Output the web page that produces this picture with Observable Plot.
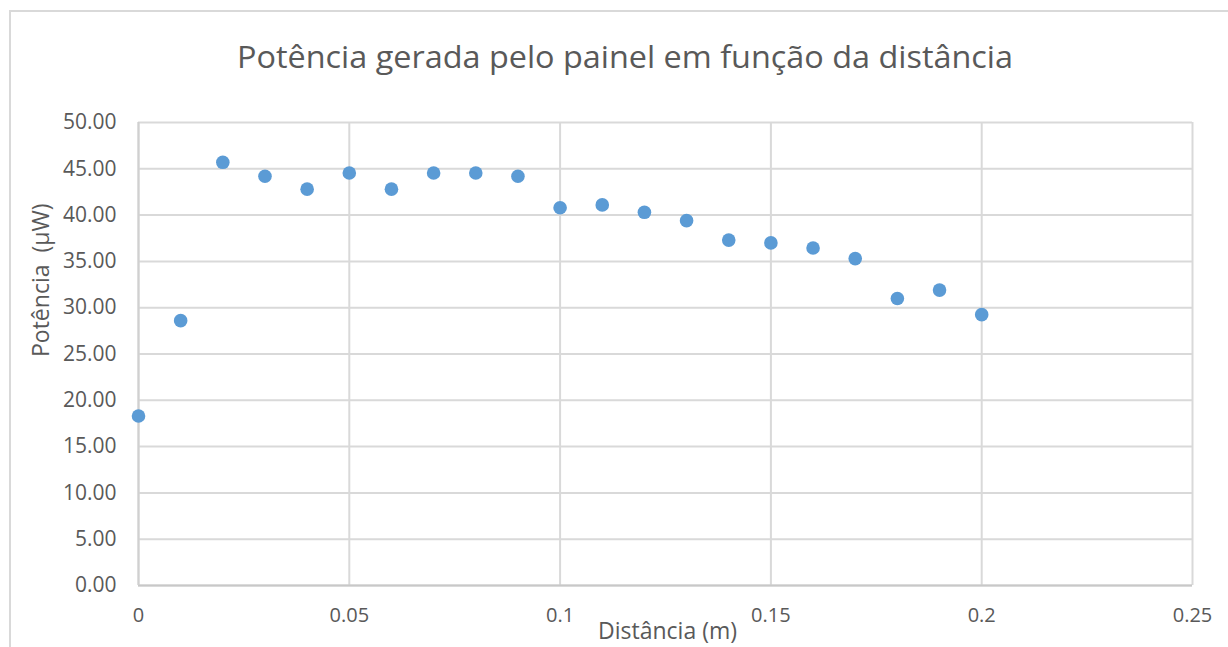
<!DOCTYPE html>
<html><head><meta charset="utf-8">
<script src="https://cdn.jsdelivr.net/npm/d3@7"></script>
<script src="https://cdn.jsdelivr.net/npm/@observablehq/plot@0.6"></script>
<style>
html,body{margin:0;padding:0;background:#fff;}
#wrap{position:relative;width:1228px;height:647px;overflow:hidden;font-family:"Open Sans",sans-serif;}
#frame{position:absolute;left:9px;top:10px;width:1260px;height:700px;border-top:2px solid #d9d9d9;border-left:2px solid #d9d9d9;box-sizing:border-box;}
#chart{position:absolute;left:0;top:0;}
#titlesvg{position:absolute;left:0;top:0;}
</style></head>
<body>
<div id="wrap">
  <div id="frame"></div>
  <div id="chart"></div>
  <svg id="titlesvg" width="1228" height="100"><text id="title" x="625" y="68" text-anchor="middle" fill="#595959" font-family="Open Sans" font-size="31" textLength="776" lengthAdjust="spacingAndGlyphs">Potência gerada pelo painel em função da distância</text></svg>
</div>
<script>
const titleText = "Potência gerada pelo painel em função da distância";
const xLabel = "Distância (m)";
const yLabel = "Potência  (µW)";
const distancia = [0, 0.01, 0.02, 0.03, 0.04, 0.05, 0.06, 0.07, 0.08, 0.09, 0.10, 0.11, 0.12, 0.13, 0.14, 0.15, 0.16, 0.17, 0.18, 0.19, 0.20];
const potencia = [18.3, 28.6, 45.7, 44.2, 42.8, 44.55, 42.8, 44.55, 44.55, 44.2, 40.8, 41.1, 40.3, 39.4, 37.3, 37.0, 36.45, 35.3, 31.0, 31.9, 29.25];
const xTicks = [0, 0.05, 0.1, 0.15, 0.2, 0.25];
const xTickLabels = ["0", "0.05", "0.1", "0.15", "0.2", "0.25"];
const yTicks = [0, 5, 10, 15, 20, 25, 30, 35, 40, 45, 50];

document.getElementById("title").textContent = titleText;
const data = distancia.map((d, i) => ({d, p: potencia[i]}));

const chart = Plot.plot({
  width: 1228,
  height: 647,
  marginTop: 122,
  marginRight: 36,
  marginBottom: 62,
  marginLeft: 138,
  style: {fontFamily: "Open Sans", fontSize: "20px", color: "#595959", background: "transparent"},
  x: {domain: [0, 0.25]},
  y: {domain: [0, 50]},
  marks: [
    Plot.gridX(xTicks, {stroke: "#d9d9d9", strokeOpacity: 1, strokeWidth: 2}),
    Plot.gridY(yTicks, {stroke: "#d9d9d9", strokeOpacity: 1, strokeWidth: 2}),
    Plot.ruleY([0], {stroke: "#c8c8c8", strokeWidth: 2}),
    Plot.ruleX([0], {stroke: "#d0d0d0", strokeWidth: 2}),
    Plot.axisX(xTicks, {tickFormat: (d) => xTickLabels[xTicks.indexOf(d)], tickSize: 0, tickPadding: 22, fontSize: 20, label: null}),
    Plot.axisY(yTicks, {tickFormat: (d) => d.toFixed(2), tickSize: 0, tickPadding: 22, fontSize: 21, label: null}),
    Plot.text([xLabel], {text: (d) => d, frameAnchor: "bottom", dx: 2, dy: 46, lineAnchor: "middle", fontSize: 23, fill: "#595959"}),
    Plot.text([yLabel], {text: (d) => d, frameAnchor: "left", rotate: -90, dx: -97, dy: 3, lineAnchor: "middle", fontSize: 23, fill: "#595959"}),
    Plot.dot(data, {x: "d", y: "p", r: 6.8, fill: "#5b9bd5", stroke: "none"})
  ]
});
document.getElementById("chart").appendChild(chart);
</script>
</body></html>
